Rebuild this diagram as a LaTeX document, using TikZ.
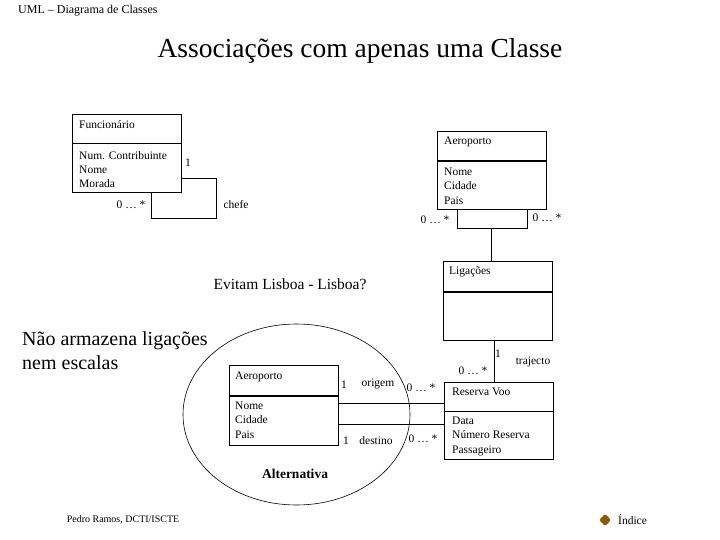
\documentclass[tikz,border=0pt]{standalone}
\usepackage{fontspec}
\setmainfont{Liberation Serif}
\usetikzlibrary{shapes.geometric}
\begin{document}
\begin{tikzpicture}[x=1pt,y=-1pt,
  box/.style={draw, line width=0.8pt, anchor=north west, inner sep=0pt},
  thin/.style={line width=0.6pt},
  thick/.style={line width=1.8pt},
  txt/.style={anchor=west, inner sep=0pt, font=\fontsize{11.5}{13}\selectfont},
  lbl/.style={inner sep=0pt, font=\fontsize{11.5}{13}\selectfont},
  attrs/.style={anchor=north west, inner sep=0pt, align=left, font=\fontsize{11.5}{14.2}\selectfont}]
\useasboundingbox (0,0) rectangle (720,540);
% header
\node[anchor=west, inner sep=0pt, font=\fontsize{12}{14}\selectfont] (hdr) at (18,11) {UML – Diagrama de Classes};
\node[inner sep=0pt, font=\fontsize{27.5}{32}\selectfont] (title) at (360,51) {Associações com apenas uma Classe};
% Funcionario
\node[box, minimum width=109pt, minimum height=78pt] (fun) at (72,114) {};
\draw[thin] (72,143) -- (181,143);
\node[txt] (funN) at (79,125) {Funcionário};
\node[attrs] (funA) at (79,151) {Num. Contribuinte\\Nome\\Morada};
\coordinate (f1) at (181,178);
\coordinate (f2) at (216,178);
\coordinate (f3) at (216,218);
\coordinate (f4) at (151,218);
\coordinate (f5) at (151,192);
\draw[thin] (f1) -- (f2) -- (f3) -- (f4) -- (f5);
\node[lbl] (l1) at (188,163) {1};
\node[lbl] (l2) at (131,205) {0 … *};
\node[lbl] (l3) at (236,205) {chefe};
% Aeroporto top
\node[box, minimum width=109pt, minimum height=78pt] (aer) at (437,131) {};
\draw[thick] (437,161) -- (546,161);
\node[txt] (aerN) at (444,142) {Aeroporto};
\node[attrs] (aerA) at (444,168) {Nome\\Cidade\\Pais};
\coordinate (a1) at (457,209);
\coordinate (a2) at (457,228);
\coordinate (a3) at (527,228);
\coordinate (a4) at (527,209);
\coordinate (a5) at (491,228);
\coordinate (a6) at (491,261);
\draw[thin] (a1) -- (a2) -- (a3) -- (a4);
% Ligacoes
\node[box, minimum width=109pt, minimum height=79pt] (lig) at (443,261) {};
\draw[thick] (443,292) -- (552,292);
\node[txt] (ligN) at (449,272) {Ligações};
\draw[thin] (a5) -- (a6);
\node[lbl] (l4) at (435,220) {0 … *};
\node[lbl] (l5) at (547,218) {0 … *};
% Evitam
\node[inner sep=0pt, font=\fontsize{15.5}{18}\selectfont] (evit) at (290,284) {Evitam Lisboa - Lisboa?};
% Nao armazena
\node[anchor=north west, inner sep=0pt, align=left, font=\fontsize{20}{24}\selectfont] (nao) at (22,331) {Não armazena ligações\\nem escalas};
% ellipse
\node[draw, thin, ellipse, minimum width=227pt, minimum height=181pt, inner sep=0pt] (ell) at (296.5,414.5) {};
% Aeroporto inside
\node[box, minimum width=109pt, minimum height=80pt] (aer2) at (229,365) {};
\draw[thick] (229,396) -- (338,396);
\node[txt] (aer2N) at (235,377) {Aeroporto};
\node[attrs] (aer2A) at (235,402) {Nome\\Cidade\\Pais};
% Reserva Voo
\node[box, minimum width=109pt, minimum height=77pt] (res) at (444,382) {};
\draw[thin] (444,411) -- (553,411);
\node[txt] (resN) at (452,392) {Reserva Voo};
\node[attrs] (resA) at (452,417) {Data\\Número Reserva\\Passageiro};
% connectors
\coordinate (o1) at (338,403);
\coordinate (o2) at (444,403);
\coordinate (d1) at (338,424);
\coordinate (d2) at (444,424);
\coordinate (t1) at (494,340);
\coordinate (t2) at (494,382);
\draw[thin] (o1) -- (o2);
\draw[thin] (d1) -- (d2);
\draw[thin] (t1) -- (t2);
\node[lbl] (l6) at (498,354) {1};
\node[lbl] (l7) at (473,371) {0 … *};
\node[lbl] (l8) at (533,362) {trajecto};
\node[lbl] (l9) at (344,385) {1};
\node[lbl] (l10) at (378,384) {origem};
\node[lbl] (l11) at (421,388) {0 … *};
\node[lbl] (l12) at (346,441) {1};
\node[lbl] (l13) at (376,441) {destino};
\node[lbl] (l14) at (423,439) {0 … *};
\node[inner sep=0pt, font=\bfseries\fontsize{13.5}{15}\selectfont] (alt) at (295,474) {Alternativa};
% footer
\node[inner sep=0pt, font=\fontsize{10}{12}\selectfont] (foot) at (123,520) {Pedro Ramos, DCTI/ISCTE};
\fill[rounded corners=1.5pt, fill={rgb,255:red,140;green,90;blue,10}] (605,514) -- (611,520) -- (605,526) -- (599,520) -- cycle;
\node[anchor=west, inner sep=0pt, font=\fontsize{11.5}{13}\selectfont] (idx) at (618,520) {Índice};
\end{tikzpicture}
\end{document}
